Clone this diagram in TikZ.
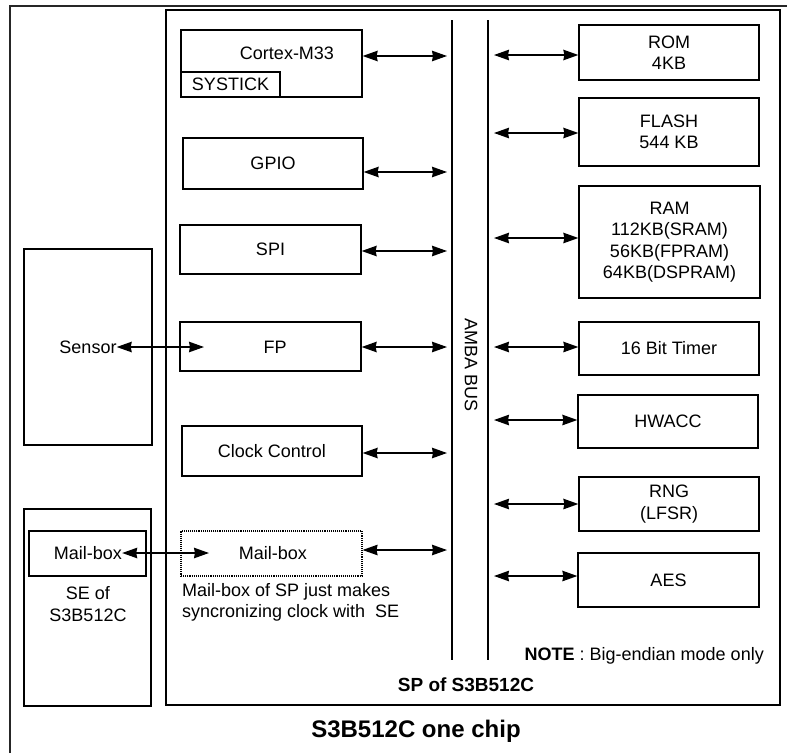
\documentclass[tikz,border=0pt]{standalone}
\usepackage{fontspec}
\setmainfont{Liberation Sans}
\usetikzlibrary{fit,arrows.meta}
\newcommand\dlbl{\fontsize{18}{21.5}\selectfont}
\begin{document}
\begin{tikzpicture}[x=1pt,y=-1pt,
  box/.style={draw, line width=1.3pt, inner sep=0pt},
  dotbox/.style={draw, line width=1.1pt, densely dotted, inner sep=0pt},
  txt/.style={inner sep=0pt, font=\dlbl, align=center},
  bi/.style={{Stealth[length=15pt,width=10.5pt,inset=1pt]}-{Stealth[length=15pt,width=10.5pt,inset=1pt]}, line width=1.3pt},
  busline/.style={line width=1.4pt}]
\useasboundingbox (0,0) rectangle (787,753);

% outer frame
\draw[line width=1.8pt, black!85] (10,753) -- (10,6) -- (787,6);
% SP box
\node[draw, line width=1.4pt, inner sep=0pt, fit={(166,10) (780,705)}] (sp) {};

% bus
\coordinate (busLt) at (452,20); \coordinate (busLb) at (452,660);
\coordinate (busRt) at (488,20); \coordinate (busRb) at (488,660);
\draw[busline] (busLt) -- (busLb);
\draw[busline] (busRt) -- (busRb);
\node[txt, rotate=-90] (amba) at (471,365) {AMBA BUS};

% left column
\node[box, fit={(181,30) (362,97)}] (cortex) {};
\node[txt] (cortextxt) at (287,53) {Cortex-M33};
\node[box, fit={(181,72) (280,97)}] (systick) {};
\node[txt] (systicktxt) at (systick.center) {SYSTICK};
\node[box, fit={(183,138) (363,189)}] (gpio) {};
\node[txt] (gpiotxt) at (gpio.center) {GPIO};
\node[box, fit={(180,225) (361,274)}] (spi) {};
\node[txt] (spitxt) at (spi.center) {SPI};
\node[box, fit={(180,322) (361,371)}] (fp) {};
\node[txt] (fptxt) at (275,347) {FP};
\node[box, fit={(182,426) (362,476)}] (clk) {};
\node[txt] (clktxt) at (clk.center) {Clock Control};
\node[dotbox, fit={(181,531) (362,576)}] (mbsp) {};
\node[txt] (mbsptxt) at (273,553) {Mail-box};
\node[txt, anchor=west, align=left] (note1) at (182,592) {Mail-box of SP just makes};
\node[txt, anchor=west, align=left] (note2) at (182,613) {syncronizing clock with\ \ SE};

% right column
\node[box, fit={(579,25) (759,80)}] (rom) {};
\node[txt] (romtxt) at (rom.center) {ROM\\4KB};
\node[box, fit={(579,98) (759,166)}] (flash) {};
\node[txt] (flashtxt) at (flash.center) {FLASH\\544 KB};
\node[box, fit={(579,186) (760,298)}] (ram) {};
\node[txt] (ramtxt) at (ram.center) {RAM\\112KB(SRAM)\\56KB(FPRAM)\\64KB(DSPRAM)};
\node[box, fit={(579,322) (759,375)}] (timer) {};
\node[txt] (timertxt) at (timer.center) {16 Bit Timer};
\node[box, fit={(578,395) (758,448)}] (hwacc) {};
\node[txt] (hwacctxt) at (hwacc.center) {HWACC};
\node[box, fit={(579,477) (759,531)}] (rng) {};
\node[txt] (rngtxt) at (rng.center) {RNG\\(LFSR)};
\node[box, fit={(578,553) (759,607)}] (aes) {};
\node[txt] (aestxt) at (aes.center) {AES};

% outside blocks
\node[box, fit={(24,249) (152,445)}] (sensor) {};
\node[txt] (sensortxt) at (88,347) {Sensor};
\node[box, fit={(24,509) (151,706)}] (se) {};
\node[box, fit={(29,531) (146,576)}] (mbse) {};
\node[txt] (mbsetxt) at (88,553) {Mail-box};
\node[txt] (setxt) at (88,604) {SE of\\S3B512C};

% texts
\node[txt, anchor=east] (note) at (764,656) {\textbf{NOTE} : Big-endian mode only};
\node[txt, font=\fontsize{19}{22}\selectfont\bfseries] (sptitle) at (466,685) {SP of S3B512C};
\node[txt, font=\fontsize{24}{28}\selectfont\bfseries] (title) at (416,731) {S3B512C one chip};

% bus-side coordinates
\coordinate (lb1) at (447,56);
\coordinate (lb2) at (447,172);
\coordinate (lb3) at (447,251);
\coordinate (lb4) at (447,347);
\coordinate (lb5) at (447,453);
\coordinate (lb6) at (447,550);
\coordinate (rb1) at (494,55);
\coordinate (rb2) at (494,133);
\coordinate (rb3) at (494,238);
\coordinate (rb4) at (494,347);
\coordinate (rb5) at (494,420);
\coordinate (rb6) at (494,504);
\coordinate (rb7) at (494,576);

% left arrows
\draw[bi] (cortex.east |- lb1) -- (lb1);
\draw[bi] (gpio.east |- lb2) -- (lb2);
\draw[bi] (spi.east |- lb3) -- (lb3);
\draw[bi] (fp.east |- lb4) -- (lb4);
\draw[bi] (clk.east |- lb5) -- (lb5);
\draw[bi] (mbsp.east |- lb6) -- (lb6);
% right arrows
\draw[bi] (rb1) -- (rom.west |- rb1);
\draw[bi] (rb2) -- (flash.west |- rb2);
\draw[bi] (rb3) -- (ram.west |- rb3);
\draw[bi] (rb4) -- (timer.west |- rb4);
\draw[bi] (rb5) -- (hwacc.west |- rb5);
\draw[bi] (rb6) -- (rng.west |- rb6);
\draw[bi] (rb7) -- (aes.west |- rb7);

% external links
\coordinate (fpin) at (204,347);
\coordinate (mbin) at (209,553);
\draw[bi] (sensortxt.east) -- (fpin);
\draw[bi] (mbsetxt.east) -- (mbin);
\end{tikzpicture}
\end{document}
